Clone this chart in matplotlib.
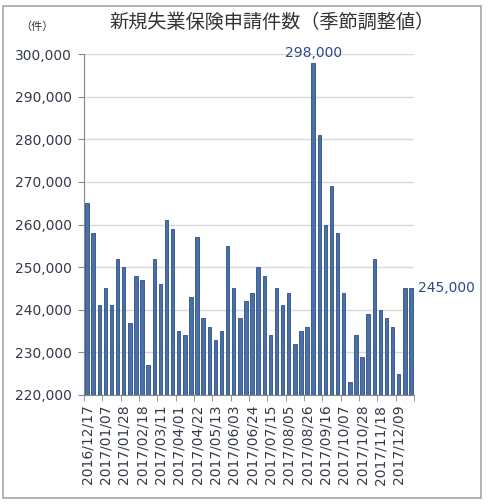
import matplotlib.pyplot as plt
import matplotlib.patches as mpatches
import numpy as np

plt.rcParams['font.family'] = ['DejaVu Sans', 'Noto Sans CJK JP']

# weekly data, 2016/12/17 - 2017/12/23
weeks = ['2016/12/17', '2016/12/24', '2016/12/31', '2017/01/07', '2017/01/14', '2017/01/21',
         '2017/01/28', '2017/02/04', '2017/02/11', '2017/02/18', '2017/02/25', '2017/03/04',
         '2017/03/11', '2017/03/18', '2017/03/25', '2017/04/01', '2017/04/08', '2017/04/15',
         '2017/04/22', '2017/04/29', '2017/05/06', '2017/05/13', '2017/05/20', '2017/05/27',
         '2017/06/03', '2017/06/10', '2017/06/17', '2017/06/24', '2017/07/01', '2017/07/08',
         '2017/07/15', '2017/07/22', '2017/07/29', '2017/08/05', '2017/08/12', '2017/08/19',
         '2017/08/26', '2017/09/02', '2017/09/09', '2017/09/16', '2017/09/23', '2017/09/30',
         '2017/10/07', '2017/10/14', '2017/10/21', '2017/10/28', '2017/11/04', '2017/11/11',
         '2017/11/18', '2017/11/25', '2017/12/02', '2017/12/09', '2017/12/16', '2017/12/23']
claims = [265000, 258000, 241000, 245000, 241000, 252000, 250000, 237000, 248000, 247000,
          227000, 252000, 246000, 261000, 259000, 235000, 234000, 243000, 257000, 238000,
          236000, 233000, 235000, 255000, 245000, 238000, 242000, 244000, 250000, 248000,
          234000, 245000, 241000, 244000, 232000, 235000, 236000, 298000, 281000, 260000,
          269000, 258000, 244000, 223000, 234000, 229000, 239000, 252000, 240000, 238000,
          236000, 225000, 245000, 245000]

title = '新規失業保険申請件数（季節調整値）'
unit = '（件）'

fig = plt.figure(figsize=(4.88, 5.04), dpi=100)
ax = fig.add_axes([84/488, 1 - 395/504, 330/488, 341/504])

x = np.arange(len(claims))
ax.bar(x, claims, width=0.57, color='#4a70aa', edgecolor='#2d4f86', linewidth=0.6, zorder=3)

ax.set_ylim(220000, 300000)
ax.set_xlim(-0.5, len(claims) - 0.5)
ax.set_yticks(np.arange(220000, 300001, 10000))
ax.set_yticklabels(['{:,}'.format(v) for v in range(220000, 300001, 10000)],
                   fontsize=10, color='#333a4a')
ax.grid(axis='y', color='#d9d9d9', linewidth=1, zorder=0)

# labels every 3 weeks, tick marks between the groups
ax.set_xticks(x[::3])
ax.set_xticklabels(weeks[::3], rotation=90, fontsize=10, color='#333a4a')
ax.tick_params(axis='x', length=0, pad=7)
ax.set_xticks(np.arange(-0.5, len(claims), 3), minor=True)
ax.tick_params(axis='x', which='minor', length=4, color='#888888')
ax.tick_params(axis='y', length=4, color='#888888', pad=5)

for s in ['top', 'right']:
    ax.spines[s].set_visible(False)
for s in ['left', 'bottom']:
    ax.spines[s].set_color('#888888')

# value labels
peak = int(np.argmax(claims))
ax.annotate('{:,}'.format(claims[peak]), (peak, claims[peak]), xytext=(0, 2),
            textcoords='offset points', ha='center', va='bottom', fontsize=10, color='#2f4a8a')
ax.annotate('{:,}'.format(claims[-1]), (x[-1], claims[-1]), xytext=(5, 0),
            textcoords='offset points', ha='left', va='center', fontsize=10, color='#2f4a8a')

fig.text(272/488, 1 - 22/504, title, ha='center', va='center', fontsize=13.8, color='#333333',
         family=['Noto Sans CJK JP', 'DejaVu Sans'])
fig.text(37/488, 1 - 27/504, unit, ha='center', va='center', fontsize=8, color='#333333',
         family=['Noto Sans CJK JP', 'DejaVu Sans'])

# outer chart border
fig.patches.append(mpatches.Rectangle((3/488, 6/504), 478/488, 492/504, transform=fig.transFigure,
                                      fill=False, edgecolor='#a6a6a6', linewidth=1.2))

plt.savefig('out.png', dpi=100)
